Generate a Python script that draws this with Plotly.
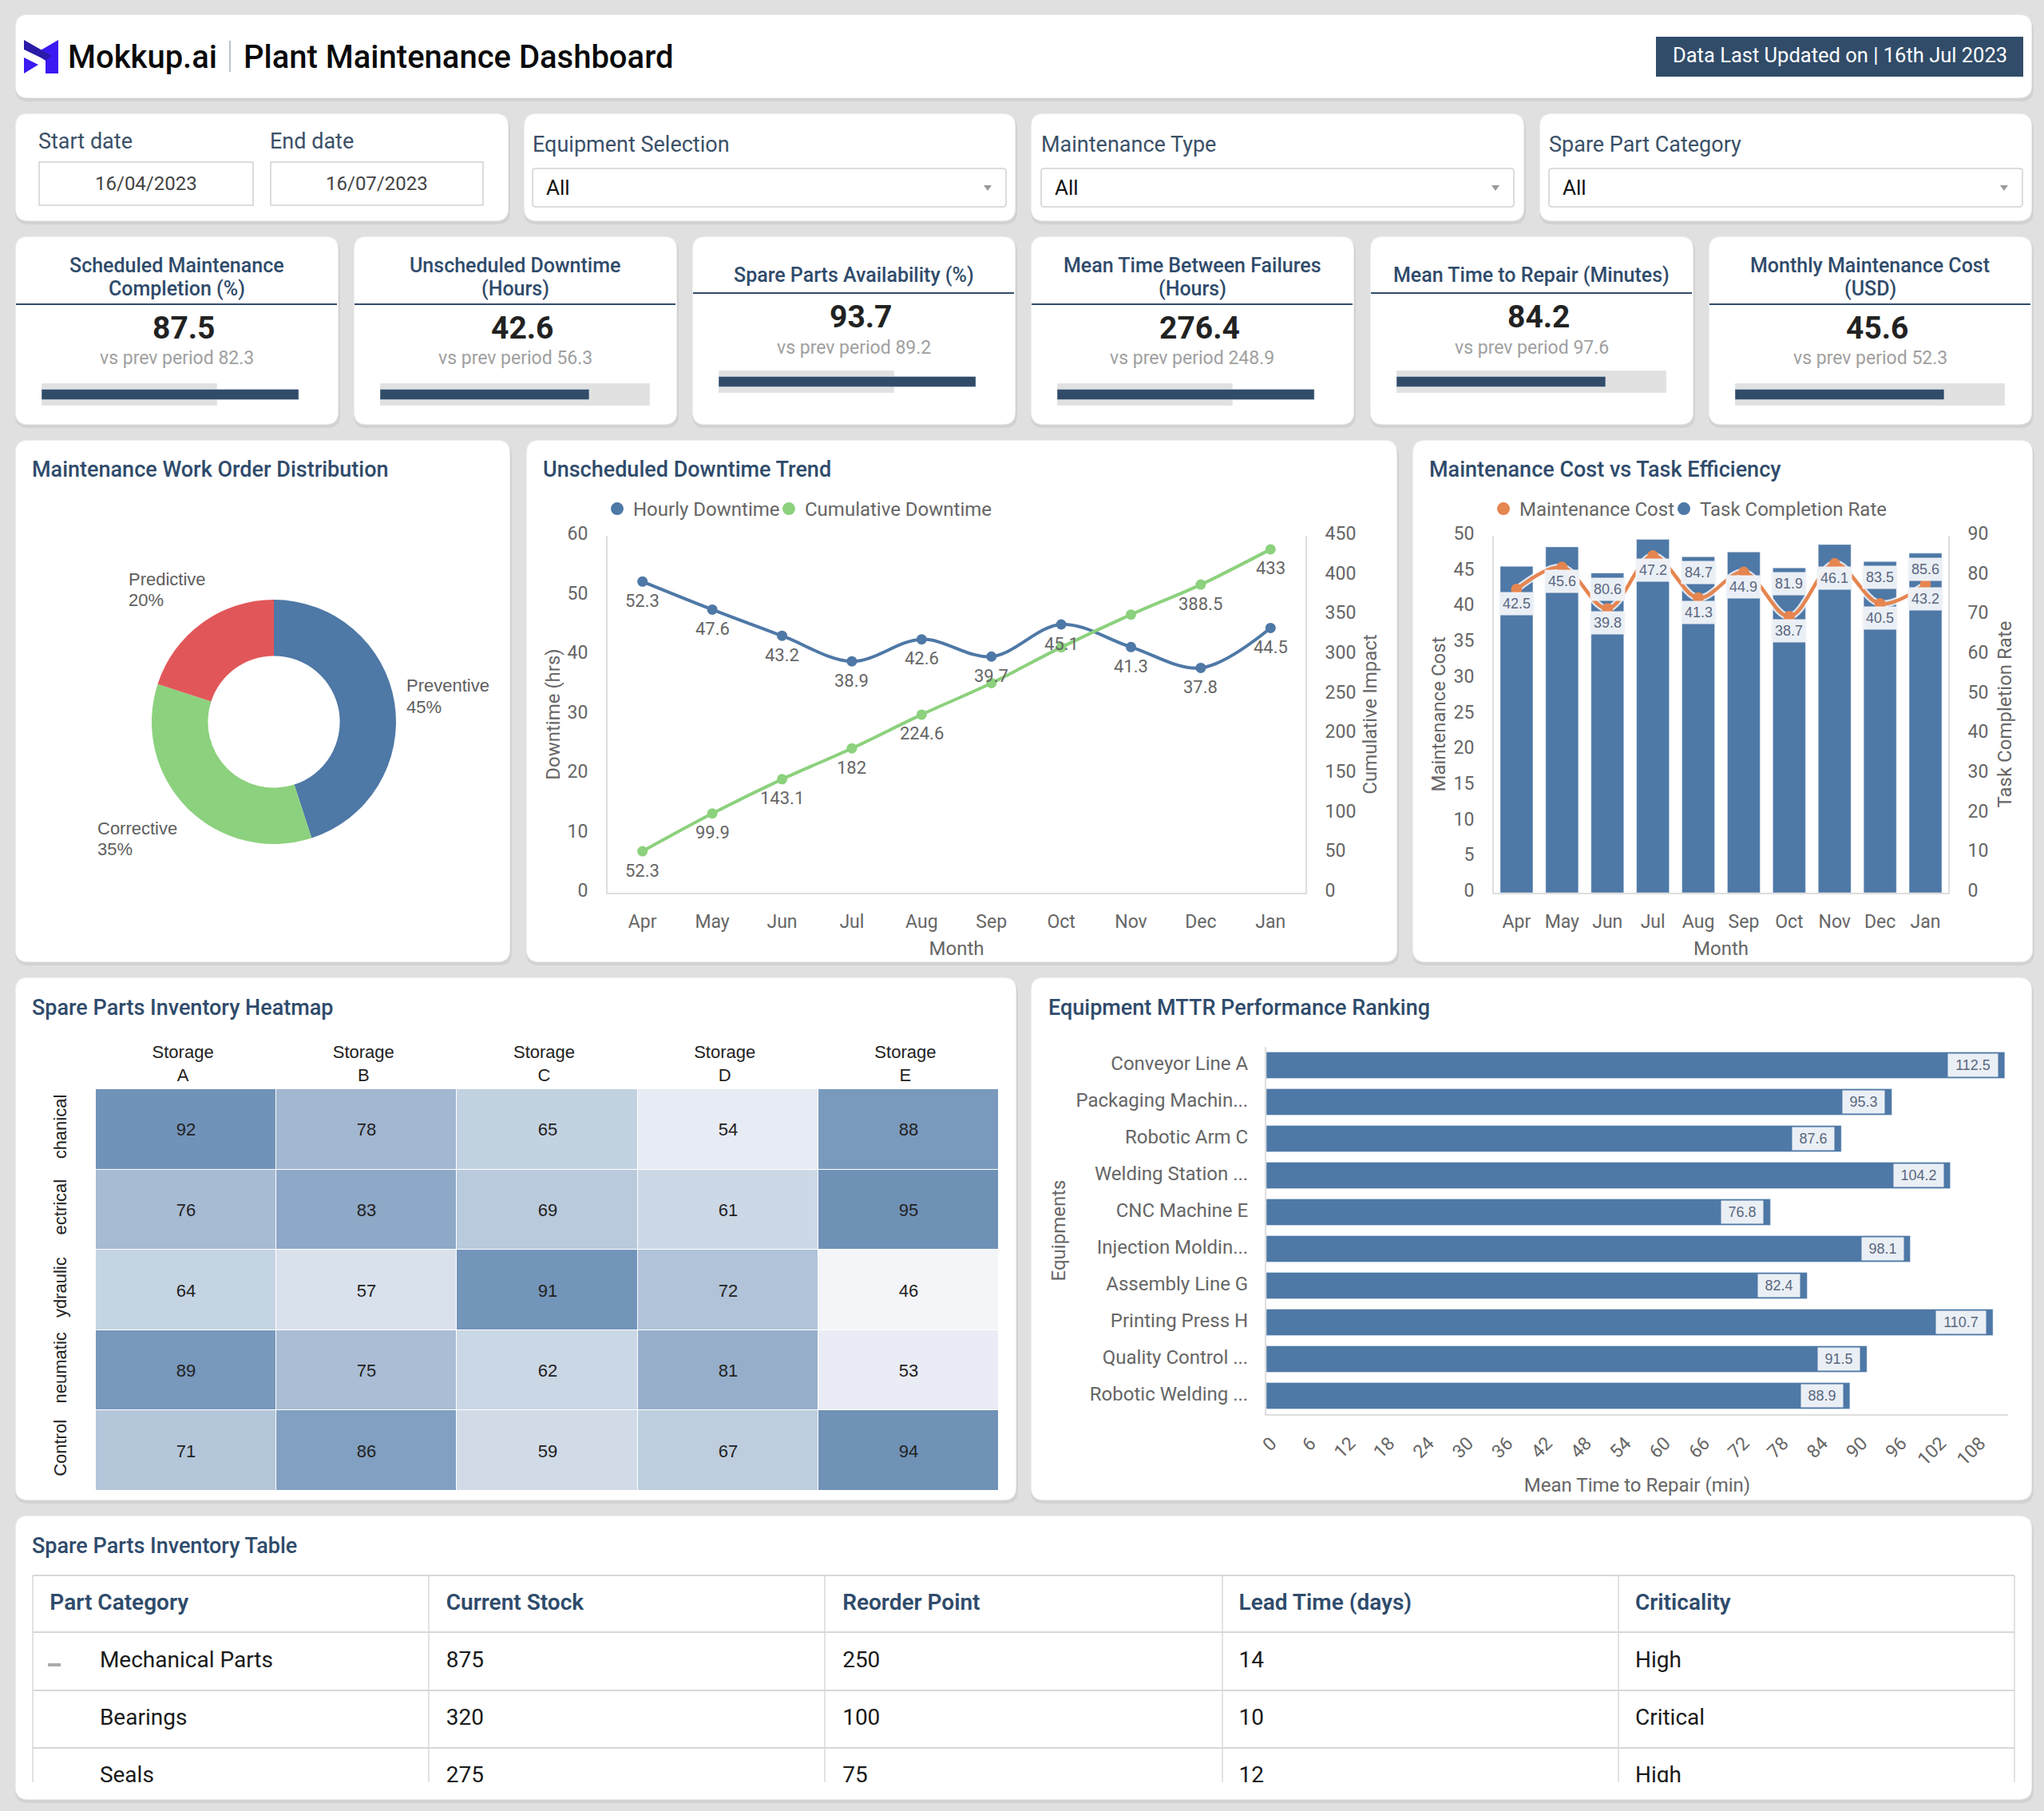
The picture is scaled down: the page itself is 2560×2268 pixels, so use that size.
import plotly.graph_objects as go

W, H = 2560, 2268
FONT = 'Roboto'
ARIAL = 'Liberation Sans'
DARK = '#2F4B6B'
NAVY = '#314C69'
TICK = '#666666'
AXIS = '#DEDEDE'
BLUE = '#4E78A6'
GREEN = '#8CD17D'
RED = '#E15759'
ORANGE = '#E58550'
BOX = 'rgba(240,243,248,0.97)'
BOX_TEXT = '#5A6780'

# kpi cards
kpi_titles = [['Scheduled Maintenance', 'Completion (%)'], ['Unscheduled Downtime', '(Hours)'],
              ['Spare Parts Availability (%)'], ['Mean Time Between Failures', '(Hours)'],
              ['Mean Time to Repair (Minutes)'], ['Monthly Maintenance Cost', '(USD)']]
kpi_values = ['87.5', '42.6', '93.7', '276.4', '84.2', '45.6']
kpi_prev = ['82.3', '56.3', '89.2', '248.9', '97.6', '52.3']
kpi_track = [0.65, 1.0, 0.65, 0.65, 1.0, 1.0]
kpi_fill = [0.953, 0.775, 0.953, 0.953, 0.775, 0.775]

# donut
order_types = ['Preventive', 'Corrective', 'Predictive']
order_shares = [45, 35, 20]

# downtime trend
months = ['Apr', 'May', 'Jun', 'Jul', 'Aug', 'Sep', 'Oct', 'Nov', 'Dec', 'Jan']
hourly_downtime = [52.3, 47.6, 43.2, 38.9, 42.6, 39.7, 45.1, 41.3, 37.8, 44.5]
cumulative_downtime = [52.3, 99.9, 143.1, 182, 224.6, 264.3, 309.4, 350.7, 388.5, 433]
cumulative_shown = [True, True, True, True, True, False, False, False, True, True]

# cost vs efficiency
maintenance_cost = [42.5, 45.6, 39.8, 47.2, 41.3, 44.9, 38.7, 46.1, 40.5, 43.2]
completion_rate = [82.3, 87.2, 80.6, 89.1, 84.7, 85.9, 81.9, 87.8, 83.5, 85.6]
completion_shown = [False, False, True, False, True, False, True, False, True, True]

# heatmap
storages = ['Storage<br>A', 'Storage<br>B', 'Storage<br>C', 'Storage<br>D', 'Storage<br>E']
part_groups = ['chanical', 'ectrical', 'ydraulic', 'neumatic', 'Control']
inventory = [[92, 78, 65, 54, 88],
             [76, 83, 69, 61, 95],
             [64, 57, 91, 72, 46],
             [89, 75, 62, 81, 53],
             [71, 86, 59, 67, 94]]

# mttr ranking
equipments = ['Conveyor Line A', 'Packaging Machin...', 'Robotic Arm C', 'Welding Station ...', 'CNC Machine E',
              'Injection Moldin...', 'Assembly Line G', 'Printing Press H', 'Quality Control ...', 'Robotic Welding ...']
mttr = [112.5, 95.3, 87.6, 104.2, 76.8, 98.1, 82.4, 110.7, 91.5, 88.9]

# table
table_head = ['Part Category', 'Current Stock', 'Reorder Point', 'Lead Time (days)', 'Criticality']
table_rows = [['Mechanical Parts', '875', '250', '14', 'High'],
              ['Bearings', '320', '100', '10', 'Critical'],
              ['Seals', '275', '75', '12', 'High']]


def px(x):
    return x / W


def py(y):
    return 1 - y / H


def round_rect(x0, y0, x1, y1, r):
    return (f'M{px(x0 + r)},{py(y0)} L{px(x1 - r)},{py(y0)} Q{px(x1)},{py(y0)} {px(x1)},{py(y0 + r)} '
            f'L{px(x1)},{py(y1 - r)} Q{px(x1)},{py(y1)} {px(x1 - r)},{py(y1)} '
            f'L{px(x0 + r)},{py(y1)} Q{px(x0)},{py(y1)} {px(x0)},{py(y1 - r)} '
            f'L{px(x0)},{py(y0 + r)} Q{px(x0)},{py(y0)} {px(x0 + r)},{py(y0)} Z')


def poly(points):
    return 'M' + ' L'.join(f'{px(x)},{py(y)}' for x, y in points) + ' Z'


shapes = []
annotations = []


def add_path(path, fill, line='rgba(0,0,0,0)', width=0):
    shapes.append(dict(type='path', path=path, xref='paper', yref='paper', fillcolor=fill,
                       line=dict(color=line, width=width), layer='below'))


def add_rect(x0, y0, x1, y1, fill, line='rgba(0,0,0,0)', width=0):
    shapes.append(dict(type='rect', xref='paper', yref='paper', x0=px(x0), x1=px(x1), y0=py(y0), y1=py(y1),
                       fillcolor=fill, line=dict(color=line, width=width), layer='below'))


def add_card(x0, y0, x1, y1):
    # soft shadow under the card
    add_path(round_rect(x0 - 1, y0 + 2, x1 + 3, y1 + 5, 16), '#D2D2D2')
    add_path(round_rect(x0 - 1, y0 - 1, x1 + 1, y1 + 1, 16), '#EFEFEF')
    add_path(round_rect(x0, y0, x1, y1, 15), '#FFFFFF')


def note(x, y, text, size=23, color=TICK, anchor='left', weight=400, family=FONT):
    # annotations carry a little padding on the left
    if anchor == 'left':
        x -= 2
    annotations.append(dict(xref='paper', yref='paper', x=px(x), y=py(y), text=text, showarrow=False,
                            xanchor=anchor, yanchor='middle', align=anchor,
                            font=dict(family=family, size=size, color=color, weight=weight)))


def boxed_label(xref, yref, x, y, text, box_w, xshift=0, yshift=0, xanchor='center'):
    annotations.append(dict(xref=xref, yref=yref, x=x, y=y, text=text, showarrow=False, xanchor=xanchor,
                            yanchor='middle', xshift=xshift, yshift=yshift, width=box_w, height=26,
                            bgcolor=BOX, font=dict(family=ARIAL, size=18, color=BOX_TEXT)))


def plain_label(xref, yref, x, y, text, yshift):
    annotations.append(dict(xref=xref, yref=yref, x=x, y=y, text=text, showarrow=False, yanchor='middle',
                            yshift=yshift, font=dict(family=FONT, size=22, color=TICK)))


def axis(**kw):
    base = dict(showgrid=False, zeroline=False, showline=True, linecolor=AXIS, linewidth=2, ticks='',
                tickfont=dict(family=FONT, size=23, color=TICK), ticklabelstandoff=18)
    base.update(kw)
    return base


def axis_title(text, standoff):
    return dict(text=text, standoff=standoff, font=dict(family=FONT, size=24, color=TICK))


def hidden_axis(**kw):
    return dict(visible=False, fixedrange=True, **kw)


def dom_x(x0, x1):
    return [px(x0), px(x1)]


def dom_y(y0, y1):
    return [py(y1), py(y0)]


# ---- cards
add_card(20, 19, 2544, 122)
for x0, x1 in [(20, 636), (657, 1271), (1292, 1908), (1929, 2544)]:
    add_card(x0, 143, x1, 276)
kpi_left = [20, 444, 868, 1292, 1717, 2141]
for x0 in kpi_left:
    add_card(x0, 297, x0 + 403, 531)
for x0, x1 in [(20, 638), (660, 1749), (1770, 2545)]:
    add_card(x0, 552, x1, 1204)
for x0, x1 in [(20, 1272), (1292, 2544)]:
    add_card(x0, 1225, x1, 1878)
add_card(20, 1899, 2544, 2253)

# ---- header
add_path(poly([(73, 50), (73, 92), (57, 92), (57, 76), (44, 67)]), '#3A1AF2')
add_path(poly([(30, 72), (48, 81), (30, 92)]), '#3A1AF2')
add_path(poly([(30, 50), (65, 70), (57, 75), (30, 62)]), '#2A1BA8')
note(85, 71, 'Mokkup.ai', size=40, color='#0A0A0A', weight=500)
shapes.append(dict(type='line', xref='paper', yref='paper', x0=px(288), x1=px(288), y0=py(51), y1=py(90),
                   line=dict(color='#9FB0C0', width=1.5), layer='below'))
note(305, 71, 'Plant Maintenance Dashboard', size=40, color='#0A0A0A', weight=500)
add_rect(2074, 46, 2534, 96, NAVY)
note(2304, 69, 'Data Last Updated on | 16th Jul 2023', size=25.5, color='#FFFFFF', anchor='center')

# ---- filters
note(48, 177, 'Start date', size=27, color='#3B5068')
note(338, 177, 'End date', size=27, color='#3B5068')
for x0, x1, day in [(49, 317, '16/04/2023'), (339, 605, '16/07/2023')]:
    add_rect(x0, 203, x1, 257, '#FFFFFF', '#DCDCDC', 2)
    note((x0 + x1) / 2, 230, day, size=24, color='#444444', anchor='center')
for x0, x1, label in [(667, 1260, 'Equipment Selection'), (1304, 1896, 'Maintenance Type'),
                      (1940, 2533, 'Spare Part Category')]:
    note(x0, 181, label, size=27, color='#3B5068')
    add_path(round_rect(x0, 211, x1, 259, 4), '#FFFFFF', '#DCDCDC', 2)
    note(x0 + 17, 235, 'All', size=26, color='#111111')
    add_path(poly([(x1 - 28, 232), (x1 - 18, 232), (x1 - 23, 239)]), '#9A9A9A')

# ---- kpi text + rule
for i, x0 in enumerate(kpi_left):
    two_line = len(kpi_titles[i]) == 2
    dy = 0 if two_line else -14
    for line_y, line in zip([332, 362] if two_line else [345], kpi_titles[i]):
        note(x0 + 201, line_y, line, size=25, color=DARK, anchor='center', weight=500)
    shapes.append(dict(type='line', xref='paper', yref='paper', x0=px(x0), x1=px(x0 + 402), y0=py(381 + dy),
                       y1=py(381 + dy), line=dict(color=NAVY, width=2), layer='below'))
    note(x0 + 210, 411 + dy, kpi_values[i], size=39, color='#222222', anchor='center', weight=700)
    note(x0 + 201, 449 + dy, 'vs prev period ' + kpi_prev[i], size=23, color='#A0A0A0', anchor='center')

# ---- chart titles
note(40, 588, 'Maintenance Work Order Distribution', size=27, color=DARK, weight=500)
note(680, 588, 'Unscheduled Downtime Trend', size=27, color=DARK, weight=500)
note(1790, 588, 'Maintenance Cost vs Task Efficiency', size=27, color=DARK, weight=500)
note(40, 1262, 'Spare Parts Inventory Heatmap', size=27, color=DARK, weight=500)
note(1313, 1262, 'Equipment MTTR Performance Ranking', size=27, color=DARK, weight=500)
note(40, 1936, 'Spare Parts Inventory Table', size=27, color=DARK, weight=500)

fig = go.Figure()
layout_axes = {}

# ---- kpi bullet bars, each on its own hidden axes
for i, x0 in enumerate(kpi_left):
    n = i + 1
    dy = 0 if len(kpi_titles[i]) == 2 else -16
    layout_axes[f'xaxis{n + 4}'] = hidden_axis(domain=dom_x(x0 + 32, x0 + 370), range=[0, 1], anchor=f'y{n + 6}')
    layout_axes[f'yaxis{n + 6}'] = hidden_axis(domain=dom_y(480 + dy, 508 + dy), range=[-0.5, 0.5], anchor=f'x{n + 4}')
    fig.add_trace(go.Bar(x=[kpi_track[i]], y=[0], orientation='h', width=1, marker_color='#E1E1E1',
                         xaxis=f'x{n + 4}', yaxis=f'y{n + 6}', showlegend=False))
    fig.add_trace(go.Bar(x=[kpi_fill[i]], y=[0], orientation='h', width=0.46, marker_color=NAVY,
                         xaxis=f'x{n + 4}', yaxis=f'y{n + 6}', showlegend=False))

# ---- donut
fig.add_trace(go.Pie(labels=order_types, values=order_shares, hole=0.54, sort=False, direction='clockwise',
                     rotation=0, textinfo='none', showlegend=False, marker=dict(colors=[BLUE, GREEN, RED]),
                     domain=dict(x=dom_x(190, 496), y=dom_y(751, 1057))))
label_spots = {'Preventive': (509, 859), 'Corrective': (122, 1037), 'Predictive': (161, 725)}
for name, share in zip(order_types, order_shares):
    x_l, y_l = label_spots[name]
    note(x_l, y_l, name, size=22, color='#5E5E5E', family=ARIAL)
    note(x_l, y_l + 26, f'{share}%', size=22, color='#5E5E5E', family=ARIAL)

# ---- downtime trend
layout_axes['xaxis'] = axis(domain=dom_x(761, 1635), anchor='y', range=[-0.5, 9.5], ticklabelstandoff=14,
                            title=axis_title('Month', 13))
layout_axes['yaxis'] = axis(domain=dom_y(671, 1118), anchor='x', range=[0, 60], dtick=10, ticklabelshift=-3,
                            title=axis_title('Downtime (hrs)', 2))
layout_axes['yaxis2'] = axis(domain=dom_y(671, 1118), anchor='x', range=[0, 450], dtick=50, side='right', ticklabelshift=-3,
                             overlaying='y', title=axis_title('Cumulative Impact', 10))
fig.add_trace(go.Scatter(x=months, y=hourly_downtime, mode='lines+markers', showlegend=False,
                         line=dict(color=BLUE, width=4, shape='spline'), marker=dict(size=13, color=BLUE)))
fig.add_trace(go.Scatter(x=months, y=cumulative_downtime, mode='lines+markers', yaxis='y2', showlegend=False,
                         line=dict(color=GREEN, width=4, shape='spline'), marker=dict(size=13, color=GREEN)))
fig.add_trace(go.Scatter(x=[None], y=[None], mode='markers', name='Hourly Downtime',
                         marker=dict(size=16, color=BLUE), legend='legend'))
fig.add_trace(go.Scatter(x=[None], y=[None], mode='markers', name='Cumulative Downtime', yaxis='y2',
                         marker=dict(size=16, color=GREEN), legend='legend2'))
for m, v in zip(months, hourly_downtime):
    plain_label('x', 'y', m, v, str(v), -24)
for m, v, shown in zip(months, cumulative_downtime, cumulative_shown):
    if shown:
        plain_label('x', 'y2', m, v, str(v), -24)

# ---- cost vs efficiency: bars sit on the base axis so the line stays on top
layout_axes['xaxis2'] = axis(domain=dom_x(1871, 2440), anchor='y3', range=[-0.5, 9.5], ticklabelstandoff=14,
                             title=axis_title('Month', 13))
layout_axes['yaxis3'] = axis(domain=dom_y(671, 1118), anchor='x2', range=[0, 90], dtick=10, side='right', ticklabelshift=-3,
                             title=axis_title('Task Completion Rate', 13))
layout_axes['yaxis4'] = axis(domain=dom_y(671, 1118), anchor='x2', range=[0, 50], dtick=5, side='left', ticklabelshift=-3,
                             overlaying='y3', title=axis_title('Maintenance Cost', 3))
fig.add_trace(go.Bar(x=months, y=completion_rate, xaxis='x2', yaxis='y3', width=0.72, marker_color=BLUE,
                     showlegend=False))
fig.add_trace(go.Scatter(x=months, y=maintenance_cost, xaxis='x2', yaxis='y4', mode='lines', showlegend=False,
                         line=dict(color='rgba(255,255,255,0.8)', width=9, shape='spline')))
fig.add_trace(go.Scatter(x=months, y=maintenance_cost, xaxis='x2', yaxis='y4', mode='lines+markers', showlegend=False,
                         line=dict(color=ORANGE, width=4.5, shape='spline'), marker=dict(size=14, color=ORANGE)))
fig.add_trace(go.Scatter(x=[None], y=[None], xaxis='x2', yaxis='y4', mode='markers', name='Maintenance Cost',
                         marker=dict(size=16, color=ORANGE), legend='legend3'))
fig.add_trace(go.Scatter(x=[None], y=[None], xaxis='x2', yaxis='y4', mode='markers', name='Task Completion Rate',
                         marker=dict(size=16, color=BLUE), legend='legend4'))
for m, v, shown in zip(months, completion_rate, completion_shown):
    if shown:
        boxed_label('x2', 'y3', m, v, str(v), 41, yshift=-20)
for m, v in zip(months, maintenance_cost):
    boxed_label('x2', 'y4', m, v, str(v), 41, yshift=-18)

# ---- heatmap
heat_colors = [[0, '#F4F5F9'], [8 / 49, '#E7EBF3'], [13 / 49, '#D0DBE7'], [19 / 49, '#C3D2E1'], [32 / 49, '#A2B7D0'],
               [42 / 49, '#7A9ABD'], [46 / 49, '#7193B9'], [1, '#6F91B6']]
layout_axes['xaxis3'] = dict(domain=dom_x(120, 1251), anchor='y5', side='top', showgrid=False, zeroline=False,
                             showline=False, ticks='', ticklabelstandoff=5, ticklabelshift=-4,
                             tickfont=dict(family=ARIAL, size=22, color='#222222'))
layout_axes['yaxis5'] = dict(domain=dom_y(1364, 1867), anchor='x3', range=[4.5, -0.5], showgrid=False, zeroline=False,
                             showline=False, ticks='', tickangle=-90, ticklabelstandoff=32,
                             tickfont=dict(family=ARIAL, size=22, color='#222222'))
fig.add_trace(go.Heatmap(z=inventory, x=storages, y=part_groups, xaxis='x3', yaxis='y5', showscale=False, xgap=1, ygap=1,
                         zmin=46, zmax=95, colorscale=heat_colors, texttemplate='%{z}',
                         textfont=dict(family=ARIAL, size=22, color='#222222')))

# ---- mttr ranking
layout_axes['xaxis4'] = axis(domain=dom_x(1586, 2515), anchor='y6', range=[0, 113], dtick=6, tick0=0, tickangle=-45,
                             ticklabelstandoff=12, ticklabelshift=6,
                             tickfont=dict(family=FONT, size=23, color=TICK), title=axis_title('Mean Time to Repair (min)', 11))
layout_axes['yaxis6'] = axis(domain=dom_y(1311, 1771), anchor='x4', range=[9.5, -0.5], type='category',
                             ticklabelstandoff=16, ticklabelshift=2, tickfont=dict(family=FONT, size=24, color=TICK),
                             title=axis_title('Equipments', 6))
fig.add_trace(go.Bar(x=mttr, y=equipments, orientation='h', xaxis='x4', yaxis='y6', width=0.72, marker_color=BLUE,
                     showlegend=False))
for name, v in zip(equipments, mttr):
    boxed_label('x4', 'y6', v, name, str(v), 10 * len(str(v)) + 10, xshift=-8, xanchor='right')

# ---- table: text on a hidden axes so the third row gets cut off by the plot area
col_edges = [41, 537, 1033, 1531, 2027, 2523]
row_edges = [1973, 2044, 2117, 2189]
for y in row_edges:
    shapes.append(dict(type='line', xref='paper', yref='paper', x0=px(41), x1=px(2523), y0=py(y), y1=py(y),
                       line=dict(color='#D8D8D8', width=2), layer='below'))
for x in col_edges:
    shapes.append(dict(type='line', xref='paper', yref='paper', x0=px(x), x1=px(x), y0=py(1973), y1=py(2232),
                       line=dict(color='#D8D8D8', width=1.5), layer='below'))
add_rect(60, 2083, 76, 2087, '#ABABAB')
layout_axes['xaxis11'] = hidden_axis(domain=dom_x(41, 2523), range=[0, 5], anchor='y13')
layout_axes['yaxis13'] = hidden_axis(domain=dom_y(1973, 2232), range=[3.58, 0], anchor='x11')
fig.add_trace(go.Scatter(x=[c + 0.043 for c in range(5)], y=[0.5] * 5, text=table_head, mode='text', xaxis='x11',
                         yaxis='y13', textposition='middle right', showlegend=False, cliponaxis=True,
                         textfont=dict(family=FONT, size=28, color=DARK, weight=600)))
for r, row in enumerate(table_rows):
    fig.add_trace(go.Scatter(x=[0.169] + [c + 0.043 for c in range(1, 5)], y=[r + 1.49] * 5, text=row, mode='text',
                             xaxis='x11', yaxis='y13', textposition='middle right', showlegend=False, cliponaxis=True,
                             textfont=dict(family=FONT, size=28, color='#1A1A1A')))

# one legend per entry, the default entry spacing is too wide here
legend_style = dict(orientation='h', xref='paper', yref='paper', xanchor='left', yanchor='middle', y=py(637.5),
                    bgcolor='rgba(0,0,0,0)', itemwidth=30, itemclick=False,
                    font=dict(family=FONT, size=24, color=TICK))

fig.update_layout(
    width=W, height=H, margin=dict(l=0, r=0, t=0, b=0, autoexpand=False), autosize=False,
    paper_bgcolor='#E0E0E0', plot_bgcolor='rgba(0,0,0,0)', barmode='overlay',
    shapes=shapes, annotations=annotations,
    legend=dict(x=px(753), **legend_style),
    legend2=dict(x=px(968), **legend_style),
    legend3=dict(x=px(1863), **legend_style),
    legend4=dict(x=px(2089), **legend_style),
    **layout_axes,
)

fig.write_html('out.html', config={'displayModeBar': False},
               post_script="document.body.style.margin='0';document.body.style.overflow='hidden';")
